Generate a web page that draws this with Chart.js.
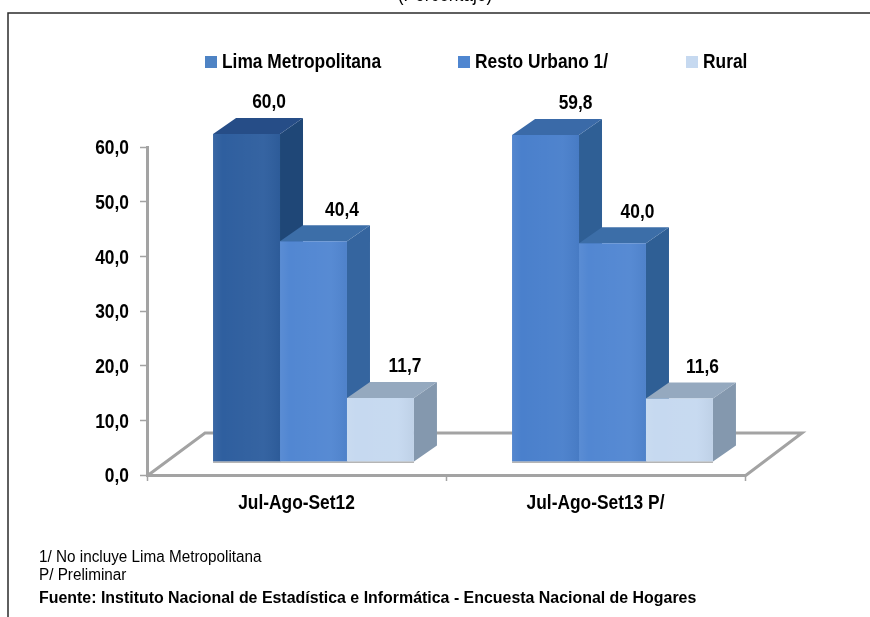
<!DOCTYPE html>
<html><head><meta charset="utf-8">
<style>html,body{margin:0;padding:0;background:#fff}canvas{display:block}</style>
<script src="https://cdn.jsdelivr.net/npm/chart.js@4"></script>
</head><body><canvas id="c" width="870" height="617"></canvas>
<script>
const categories = ['Jul-Ago-Set12', 'Jul-Ago-Set13 P/'];
const seriesNames = ['Lima Metropolitana', 'Resto Urbano 1/', 'Rural'];
const lima = [60.0, 59.8];
const resto = [40.4, 40.0];
const rural = [11.7, 11.6];
const yTicks = [0, 10, 20, 30, 40, 50, 60];
const title = '(Porcentaje)';
const notes = ['1/ No incluye Lima Metropolitana', 'P/ Preliminar'];
const source = 'Fuente: Instituto Nacional de Estadística e Informática - Encuesta Nacional de Hogares';
const legendColors = ['#4e83c4', '#4f86d0', '#c6d9f0'];
const frontColors = [['#2f5f9f', '#4a80cc'], ['#5287d2', '#5287d2'], ['#c6d9f0', '#c6d9f0']];
const topColors = [['#264d87', '#3a6aa8'], ['#3c6ea8', '#3c6ea8'], ['#95a9bf', '#95a9bf']];
const sideColors = [['#1f4777', '#2f5f95'], ['#35659f', '#2f5f95'], ['#8498ae', '#8498ae']];

const FONT = '"Liberation Sans",Arial,sans-serif';
const GRAY = '#a3a3a3';
const fmt = v => v.toFixed(1).replace('.', ',');

const shift = {x: 17, y: -13}, depth = {x: 23, y: -16};
const labelDx = [[22.5, 30], [28.5, 25], [24.5, 23]];

const canvas = document.getElementById('c');
const ctx0 = canvas.getContext('2d');
/* Arial-Narrow look: every text is drawn horizontally condensed around its anchor */
let squeeze = 0.89;
const rawFillText = ctx0.fillText.bind(ctx0);
ctx0.fillText = function (str, x, y) {
  ctx0.save();
  ctx0.translate(x, y + 2);
  ctx0.scale(squeeze, 1);
  rawFillText(str, 0, 0);
  ctx0.restore();
};

const look = {
  id: 'look',
  beforeDatasetsDraw(chart) {
    const {ctx, chartArea: a} = chart;
    ctx.save();
    ctx.strokeStyle = GRAY; ctx.lineWidth = 3; ctx.lineJoin = 'miter';
    ctx.beginPath();
    ctx.moveTo(a.left, a.bottom + 1);
    ctx.lineTo(a.left + 58, a.bottom - 42);
    ctx.lineTo(a.right + 57, a.bottom - 42);
    ctx.lineTo(a.right, a.bottom + 1);
    ctx.stroke();
    ctx.restore();

    [0, 1, 2].forEach(s => {
      const meta = chart.getDatasetMeta(s);
      ctx.save();
      ctx.translate(shift.x, shift.y);
      meta.data.forEach((b, i) => {
        const l = b.x - b.width / 2, r = b.x + b.width / 2, t = b.y, bt = b.base;
        ctx.fillStyle = sideColors[s][i];
        ctx.beginPath();
        ctx.moveTo(r, t); ctx.lineTo(r + depth.x, t + depth.y);
        ctx.lineTo(r + depth.x, bt + depth.y); ctx.lineTo(r, bt);
        ctx.closePath(); ctx.fill();
        ctx.fillStyle = topColors[s][i];
        ctx.beginPath();
        ctx.moveTo(l, t); ctx.lineTo(l + depth.x, t + depth.y);
        ctx.lineTo(r + depth.x, t + depth.y); ctx.lineTo(r, t);
        ctx.closePath(); ctx.fill();
      });
      meta.controller.draw();
      meta.data.forEach(b => {
        const l = b.x - b.width / 2;
        const g = ctx.createLinearGradient(l, 0, l + b.width, 0);
        g.addColorStop(0, 'rgba(255,255,255,0.05)');
        g.addColorStop(0.14, 'rgba(255,255,255,0.0)');
        g.addColorStop(0.75, 'rgba(255,255,255,0.03)');
        g.addColorStop(1, 'rgba(0,0,0,0.04)');
        ctx.fillStyle = g;
        ctx.fillRect(l, b.y, b.width, b.base - b.y);
        ctx.fillStyle = 'rgba(150,150,150,0.7)';
        ctx.fillRect(l, b.base, b.width, 1.5);
      });
      ctx.restore();
    });
    return false;
  },
  afterDraw(chart) {
    const {ctx, width, height} = chart;
    ctx.save();
    ctx.strokeStyle = '#2b2b2b'; ctx.lineWidth = 1.5;
    ctx.beginPath();
    ctx.moveTo(width, 13); ctx.lineTo(8, 13); ctx.lineTo(8, height);
    ctx.stroke();

    ctx.fillStyle = '#000';
    ctx.textBaseline = 'middle';
    ctx.textAlign = 'center';
    ctx.font = '19.5px ' + FONT;
    ctx.fillText(title, 445, -6);

    ctx.font = 'bold 19.5px ' + FONT;
    [lima, resto, rural].forEach((vals, s) => {
      chart.getDatasetMeta(s).data.forEach((b, i) => {
        ctx.fillText(fmt(vals[i]), b.x + shift.x + labelDx[s][i], b.y + shift.y - 33);
      });
    });

    const legendX = [205, 458, 686];
    ctx.textAlign = 'left';
    seriesNames.forEach((n, i) => {
      ctx.fillStyle = legendColors[i];
      ctx.fillRect(legendX[i], 56, 12, 12);
      ctx.fillStyle = '#000';
      ctx.fillText(n, legendX[i] + 17, 61);
    });

    squeeze = 0.955;
    ctx.font = '16px ' + FONT;
    ctx.fillText(notes[0], 39, 556);
    ctx.fillText(notes[1], 39, 574);
    squeeze = 0.995;
    ctx.font = 'bold 16px ' + FONT;
    ctx.fillText(source, 39, 597);
    squeeze = 0.89;
    ctx.restore();
  }
};

new Chart(canvas, {
  type: 'bar',
  data: {
    labels: categories,
    datasets: [lima, resto, rural].map((d, s) => ({
      label: seriesNames[s], data: d,
      backgroundColor: frontColors[s]
    }))
  },
  options: {
    responsive: false, animation: false,
    layout: {padding: {left: 87, right: 125, top: 147, bottom: 102}},
    datasets: {bar: {barPercentage: 1, categoryPercentage: 0.672}},
    plugins: {legend: {display: false}, tooltip: {enabled: false}, title: {display: false}},
    scales: {
      x: {
        afterFit(s) { s.height = 40; },
        grid: {drawOnChartArea: false, color: GRAY, tickLength: 6, tickWidth: 1.5, offset: true},
        border: {color: GRAY, width: 3},
        ticks: {color: '#000', font: {family: FONT, size: 19.5, weight: 'bold'}, padding: 9}
      },
      y: {
        min: 0, max: 60,
        afterFit(s) { s.width = 60; },
        afterBuildTicks(s) { s.ticks = yTicks.map(v => ({value: v})); },
        grid: {drawOnChartArea: false, color: GRAY, tickLength: 7, tickWidth: 1.5},
        border: {color: GRAY, width: 3},
        ticks: {color: '#000', font: {family: FONT, size: 19.5, weight: 'bold'}, padding: 11, callback: v => fmt(v)}
      }
    }
  },
  plugins: [look]
});
</script></body></html>
